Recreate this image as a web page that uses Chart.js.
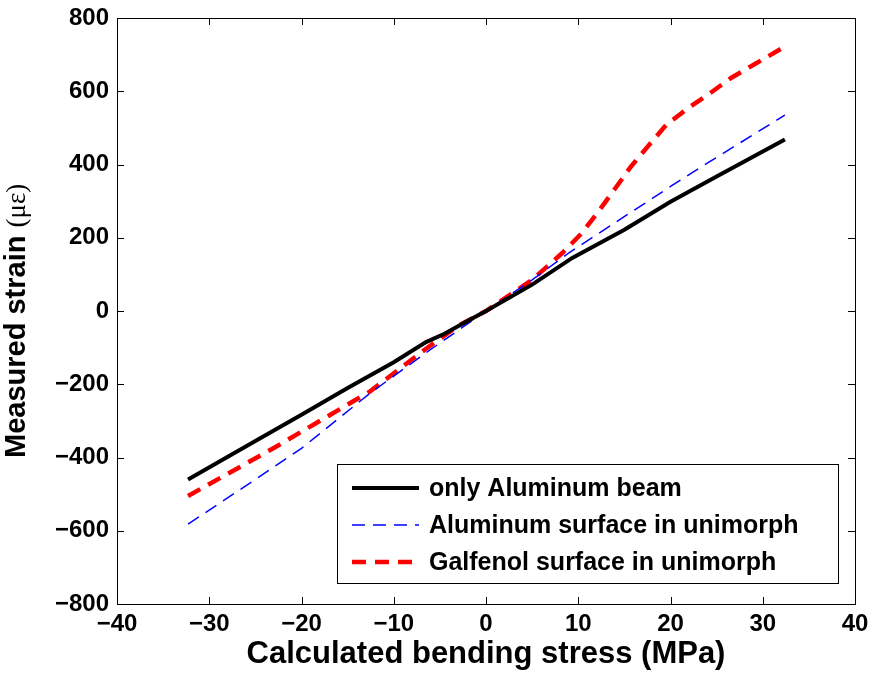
<!DOCTYPE html>
<html>
<head>
<meta charset="utf-8">
<script src="https://cdn.jsdelivr.net/npm/chart.js@4.4.1/dist/chart.umd.min.js"></script>
<style>
  html, body { margin: 0; padding: 0; background: #fff; }
  #wrap { width: 874px; height: 675px; }
</style>
</head>
<body>
<div id="wrap"><canvas id="c" width="874" height="675"></canvas></div>
<script>
// Bending stress (MPa) vs. measured strain (microstrain)
const alStress   = [-32.3, -25, -20, -15, -10, -6.5, -4.5, -2, 0, 5, 9.35, 15, 20, 25, 32.4];
const alStrain   = [-460, -355, -283, -210, -140, -85, -62, -27, 0, 72, 145, 222, 298, 367, 468];

const uniAlStress = [-32.3, -25, -20, -12.6, -6, 0, 5, 9, 20, 24.2, 32.4];
const uniAlStrain = [-582, -460, -375, -225, -105, 0, 85, 159, 340, 407, 535];

const galStress  = [-32.3, -23, -12.6, -6.5, -3, 0, 5, 8.3, 10.4, 12.2, 13.9, 15.7, 17.5, 19.5, 21.8, 24.2, 26.6, 29.2, 32.4];
const galStrain  = [-505, -374, -220, -103, -40, 0, 85, 159, 213, 272, 331, 394, 448, 507, 552, 593, 637, 675, 722];

const seriesNames = ['only Aluminum beam', 'Aluminum surface in unimorph', 'Galfenol surface in unimorph'];

const xTicks = [-40, -30, -20, -10, 0, 10, 20, 30, 40];
const yTicks = [-800, -600, -400, -200, 0, 200, 400, 600, 800];

const yTitleMain = 'Measured strain ';
const yTitleUnit = '(\u03bc\u03b5)';

const pts = (xs, ys) => xs.map((x, i) => ({ x: x, y: ys[i] }));
const minusSign = v => String(v).replace('-', '\u2212');
const FONT = '"Liberation Sans", Arial, sans-serif';

// Frame around the plot with inward tick marks on all four sides
const framePlugin = {
  id: 'frame',
  afterDatasetsDraw(chart) {
    const { ctx, chartArea: a, scales } = chart;
    ctx.save();
    ctx.strokeStyle = '#000';
    ctx.lineWidth = 1;
    ctx.strokeRect(a.left + 0.5, a.top + 0.5, a.right - a.left, a.bottom - a.top);
    const len = 7;
    ctx.beginPath();
    xTicks.forEach(v => {
      const px = Math.round(scales.x.getPixelForValue(v)) + 0.5;
      ctx.moveTo(px, a.bottom); ctx.lineTo(px, a.bottom - len);
      ctx.moveTo(px, a.top); ctx.lineTo(px, a.top + len);
    });
    yTicks.forEach(v => {
      const py = Math.round(scales.y.getPixelForValue(v)) + 0.5;
      ctx.moveTo(a.left, py); ctx.lineTo(a.left + len, py);
      ctx.moveTo(a.right, py); ctx.lineTo(a.right - len, py);
    });
    ctx.stroke();
    ctx.restore();
  }
};

// Vertical axis title: bold words followed by the unit in a light serif face
const yTitlePlugin = {
  id: 'yTitle',
  afterDraw(chart) {
    const { ctx } = chart;
    ctx.save();
    ctx.translate(25, 458);
    ctx.rotate(-Math.PI / 2);
    ctx.fillStyle = '#000';
    ctx.textBaseline = 'alphabetic';
    ctx.textAlign = 'left';
    ctx.font = 'bold 29px ' + FONT;
    ctx.fillText(yTitleMain, 0, 0);
    const w = ctx.measureText(yTitleMain).width;
    ctx.font = '27px "Liberation Serif", "DejaVu Serif", serif';
    ctx.fillText(yTitleUnit, w, 0);
    ctx.restore();
  }
};

// Boxed legend in the lower right of the plot
const boxLegendPlugin = {
  id: 'boxLegend',
  afterDraw(chart) {
    const { ctx } = chart;
    const box = { left: 337, top: 464, right: 838, bottom: 583 };
    ctx.save();
    ctx.fillStyle = '#fff';
    ctx.fillRect(box.left, box.top, box.right - box.left, box.bottom - box.top);
    ctx.strokeStyle = '#000';
    ctx.lineWidth = 1;
    ctx.strokeRect(box.left + 0.5, box.top + 0.5, box.right - box.left, box.bottom - box.top);
    const rows = [488, 525, 562];
    chart.data.datasets.forEach((ds, i) => {
      const y = rows[i];
      ctx.beginPath();
      ctx.strokeStyle = ds.borderColor;
      ctx.lineWidth = ds.borderWidth;
      ctx.setLineDash(ds.borderDash || []);
      ctx.moveTo(352, y); ctx.lineTo(419, y);
      ctx.stroke();
      ctx.setLineDash([]);
      ctx.fillStyle = '#000';
      ctx.font = 'bold 25px ' + FONT;
      ctx.textBaseline = 'middle';
      ctx.fillText(ds.label, 429, y + 1);
    });
    ctx.restore();
  }
};

new Chart(document.getElementById('c'), {
  type: 'scatter',
  data: {
    datasets: [
      {
        label: seriesNames[0],
        data: pts(alStress, alStrain),
        showLine: true, borderColor: '#000', borderWidth: 4,
        pointRadius: 0, tension: 0
      },
      {
        label: seriesNames[1],
        data: pts(uniAlStress, uniAlStrain),
        showLine: true, borderColor: '#0000ff', borderWidth: 1.5, borderDash: [13, 8],
        pointRadius: 0, tension: 0
      },
      {
        label: seriesNames[2],
        data: pts(galStress, galStrain),
        showLine: true, borderColor: '#ff0000', borderWidth: 4.5, borderDash: [14, 9],
        pointRadius: 0, tension: 0
      }
    ]
  },
  options: {
    responsive: false,
    animation: false,
    layout: { padding: { top: 18, right: 19, left: 0, bottom: 0 } },
    plugins: { legend: { display: false }, tooltip: { enabled: false } },
    scales: {
      x: {
        type: 'linear', min: -40, max: 40,
        afterBuildTicks: s => { s.ticks = xTicks.map(v => ({ value: v })); },
        afterFit: s => { s.height = 71; s.paddingLeft = 0; s.paddingRight = 0; },
        grid: { display: false, drawTicks: false },
        border: { display: false },
        ticks: {
          color: '#000', padding: 6,
          font: { family: FONT, size: 24, weight: 'bold' },
          callback: v => minusSign(v)
        },
        title: {
          display: true, text: 'Calculated bending stress (MPa)', color: '#000',
          padding: { top: 0, bottom: 2 },
          font: { family: FONT, size: 31, weight: 'bold' }
        }
      },
      y: {
        type: 'linear', min: -800, max: 800,
        afterBuildTicks: s => { s.ticks = yTicks.map(v => ({ value: v })); },
        afterFit: s => { s.width = 117; s.paddingTop = 0; s.paddingBottom = 0; },
        grid: { display: false, drawTicks: false },
        border: { display: false },
        ticks: {
          color: '#000', padding: 8,
          font: { family: FONT, size: 24, weight: 'bold' },
          callback: v => minusSign(v)
        },
        title: { display: false }
      }
    }
  },
  plugins: [framePlugin, yTitlePlugin, boxLegendPlugin]
});
</script>
</body>
</html>
